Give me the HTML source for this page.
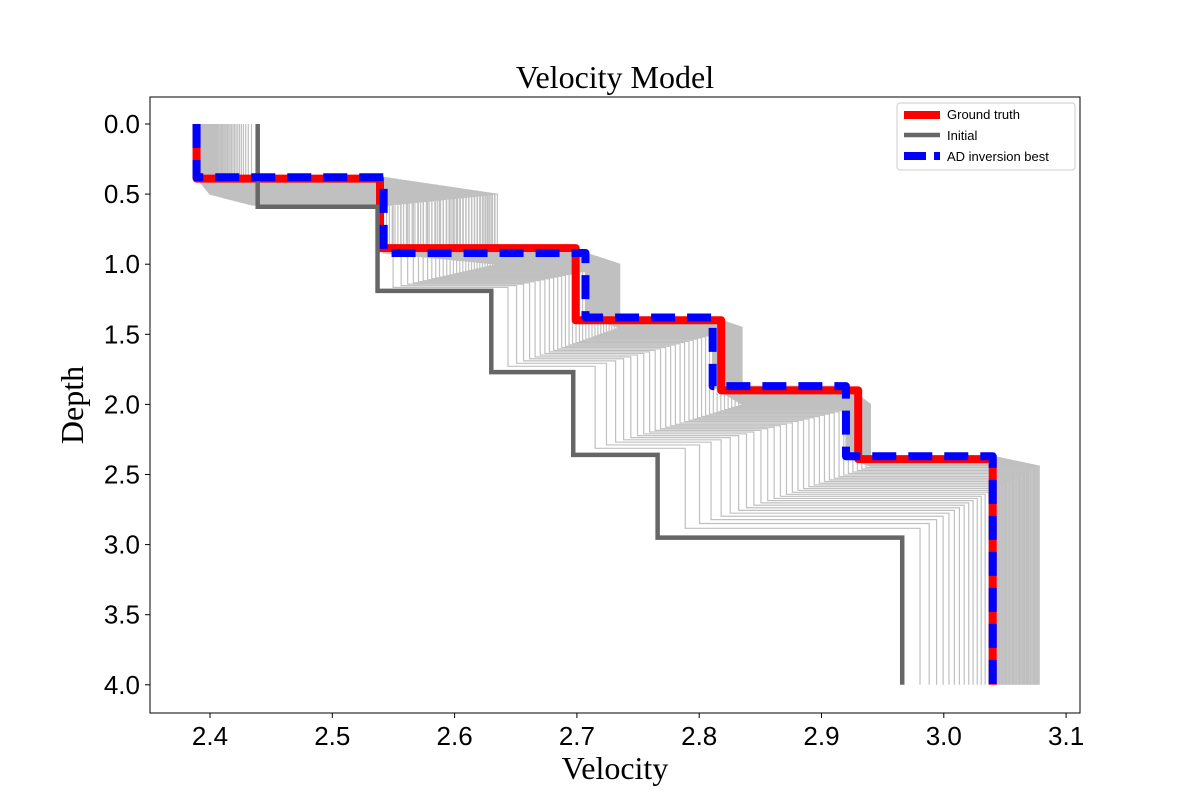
<!DOCTYPE html>
<html><head><meta charset="utf-8"><style>
body{margin:0;background:#fff;}
svg{display:block;}
</style></head><body>
<svg id="chart" width="1200" height="800" xmlns="http://www.w3.org/2000/svg">
<rect width="1200" height="800" fill="#fff"/>
<g id="iters"></g>
<g id="main"></g>
<rect x="150" y="97" width="930" height="616" fill="none" stroke="#000" stroke-width="1"/>
<g id="axes"></g>
<text x="615" y="88" text-anchor="middle" font-family="Liberation Serif, serif" font-size="32">Velocity Model</text>
<text x="615" y="779" text-anchor="middle" font-family="Liberation Serif, serif" font-size="32">Velocity</text>
<text transform="translate(83,405) rotate(-90)" text-anchor="middle" font-family="Liberation Serif, serif" font-size="32">Depth</text>
<g>
<rect x="897" y="103" width="178" height="67" rx="3" fill="#fff" stroke="#ccc"/>
<line x1="904" y1="115" x2="940" y2="115" stroke="red" stroke-width="8"/>
<text x="947" y="119" font-family="Liberation Sans, sans-serif" font-size="13">Ground truth</text>
<line x1="904" y1="135" x2="940" y2="135" stroke="#666" stroke-width="4.5"/>
<text x="947" y="140" font-family="Liberation Sans, sans-serif" font-size="13">Initial</text>
<line x1="904" y1="156" x2="940" y2="156" stroke="blue" stroke-width="8" stroke-dasharray="22,8"/>
<text x="947" y="161" font-family="Liberation Sans, sans-serif" font-size="13">AD inversion best</text>
</g>
</svg>
<script>
const xTicks=[2.4,2.5,2.6,2.7,2.8,2.9,3.0,3.1];
const yTicks=[0.0,0.5,1.0,1.5,2.0,2.5,3.0,3.5,4.0];
const truthVel=[2.389,2.539,2.699,2.818,2.93,3.04];
const truthDepth=[0.39,0.885,1.40,1.90,2.39];
const initVel=[2.439,2.537,2.63,2.697,2.766,2.966];
const initDepth=[0.59,1.19,1.77,2.36,2.95];
const bestVel=[2.389,2.542,2.707,2.811,2.92,3.04];
const bestDepth=[0.38,0.92,1.38,1.87,2.37];
const overVel=[2.40,2.635,2.735,2.835,2.94,3.078];
const overDepth=[0.5,1.0,1.45,2.0,2.44];
const maxDepth=4.0;
const X=v=>210+(v-2.4)*1223;
const Y=d=>124+d*140.2;
const NS="http://www.w3.org/2000/svg";
function stepPath(vel,dep){
  let p="M"+X(vel[0])+","+Y(0);
  for(let i=0;i<dep.length;i++){p+=" L"+X(vel[i])+","+Y(dep[i])+" L"+X(vel[i+1])+","+Y(dep[i]);}
  p+=" L"+X(vel[vel.length-1])+","+Y(maxDepth);
  return p;
}
function addPath(parent,d,attrs,name){
  const e=document.createElementNS(NS,"path");
  e.setAttribute("d",d);e.setAttribute("fill","none");
  for(const k in attrs)e.setAttribute(k,attrs[k]);
  
  
  parent.appendChild(e);
}
const iters=document.getElementById("iters");
const n1=30;
for(let k=1;k<n1;k++){
  const t=Math.pow(k/n1,0.6);
  const vel=initVel.map((v,i)=>v+(overVel[i]-v)*t);
  const dep=initDepth.map((d,i)=>d+(overDepth[i]-d)*t);
  addPath(iters,stepPath(vel,dep),{stroke:"#c0c0c0","stroke-width":1.2},"iteration-curve");
}
const n2=40;
for(let k=0;k<=n2;k++){
  const s=1-k/n2;
  const vel=bestVel.map((v,i)=>v+(overVel[i]-v)*s);
  const dep=bestDepth.map((d,i)=>d+(overDepth[i]-d)*s);
  addPath(iters,stepPath(vel,dep),{stroke:"#c0c0c0","stroke-width":1.2},"iteration-curve");
}
const main=document.getElementById("main");
addPath(main,stepPath(truthVel,truthDepth),{stroke:"red","stroke-width":8,"stroke-linejoin":"round"},"ground-truth-line");
addPath(main,stepPath(initVel,initDepth),{stroke:"#666","stroke-width":4.5},"initial-line");
addPath(main,stepPath(bestVel,bestDepth),{stroke:"blue","stroke-width":8,"stroke-dasharray":"24,12","stroke-linejoin":"round"},"ad-best-line");
const axes=document.getElementById("axes");
xTicks.forEach(v=>{
  const l=document.createElementNS(NS,"line");
  l.setAttribute("x1",X(v));l.setAttribute("x2",X(v));l.setAttribute("y1",713);l.setAttribute("y2",718);l.setAttribute("stroke","#000");
  
  
  axes.appendChild(l);
  const t=document.createElementNS(NS,"text");
  t.setAttribute("x",X(v));t.setAttribute("y",745);t.setAttribute("text-anchor","middle");
  t.setAttribute("font-family","Liberation Sans, sans-serif");t.setAttribute("font-size","26");
  t.textContent=v.toFixed(1);
  
  
  axes.appendChild(t);
});
yTicks.forEach(d=>{
  const l=document.createElementNS(NS,"line");
  l.setAttribute("x1",145);l.setAttribute("x2",150);l.setAttribute("y1",Y(d));l.setAttribute("y2",Y(d));l.setAttribute("stroke","#000");
  
  
  axes.appendChild(l);
  const t=document.createElementNS(NS,"text");
  t.setAttribute("x",140);t.setAttribute("y",Y(d)+9);t.setAttribute("text-anchor","end");
  t.setAttribute("font-family","Liberation Sans, sans-serif");t.setAttribute("font-size","26");
  t.textContent=d.toFixed(1);
  
  
  axes.appendChild(t);
});
</script>
</body></html>
